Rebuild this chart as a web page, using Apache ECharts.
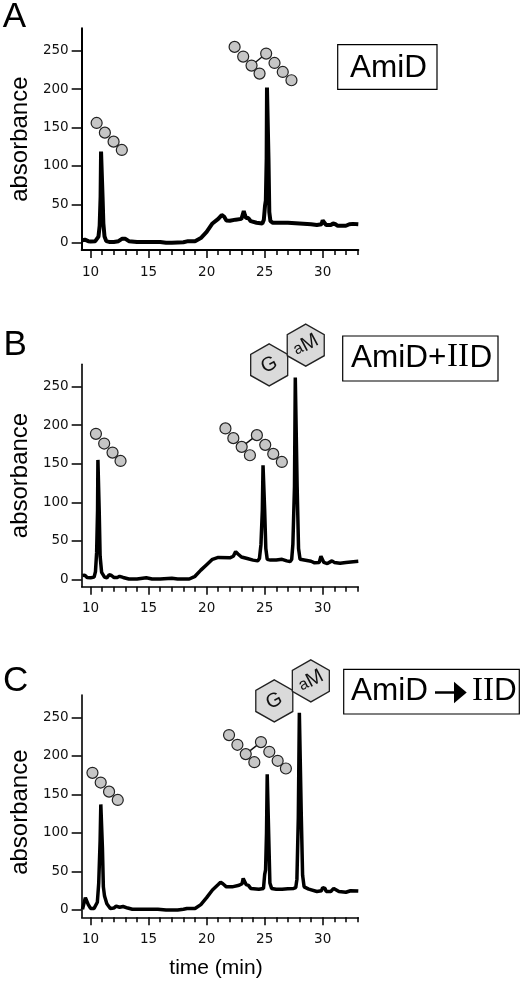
<!DOCTYPE html>
<html>
<head>
<meta charset="utf-8">
<style>
html, body { margin: 0; padding: 0; background: #fff; }
#chart-main { width: 523px; height: 982px; }
</style>
<script src="https://cdn.jsdelivr.net/npm/echarts@6/dist/echarts.min.js"></script>
</head>
<body>
<div id="chart-main"></div>
<script>
var xMajorTicks = [10, 15, 20, 25, 30];
var xMinorTicks = [11, 12, 13, 14, 16, 17, 18, 19, 21, 22, 23, 24, 26, 27, 28, 29, 31, 32, 33];
var yTicks = [0, 50, 100, 150, 200, 250];

// traces: [time, absorbance]
var traceA = [[9.3,3],[9.5,4],[9.8,2],[10,1.5],[10.4,2],[10.55,2],[10.68,8],[10.78,22],[10.86,60],[10.9,118.5],[10.99,118.5],[11.03,60],[11.1,25],[11.2,8],[11.35,2],[11.6,1],[12,1],[12.4,2],[12.7,5],[13,5],[13.3,2],[14,1],[15,1],[16,1],[16.5,0],[17,0],[18,0.5],[18.4,2],[19,2],[19.5,6],[20,14],[20.5,25],[21,31],[21.3,36],[21.5,34],[21.7,29],[22,28.5],[22.5,30],[23,31],[23.1,36],[23.2,41],[23.3,36],[23.4,32],[23.6,32],[23.8,28],[24.3,26],[24.8,25],[24.93,30],[25.03,48],[25.1,55],[25.17,110],[25.2,202],[25.29,202],[25.33,110],[25.4,40],[25.5,28],[25.7,26],[26,26],[27,26],[28,25],[29,24],[29.5,23],[29.9,24],[30,29],[30.1,28],[30.3,23],[30.7,23],[30.9,25],[31.1,24],[31.3,22],[32,22],[32.3,24],[32.6,24.5],[33.07,24]];
var traceB = [[9.3,5],[9.5,5.5],[9.7,2.5],[10,2],[10.3,3],[10.42,10],[10.52,35],[10.6,90],[10.63,155],[10.7,155],[10.74,90],[10.82,30],[10.95,9],[11.2,3],[11.4,2],[11.6,6],[11.8,5],[12,2.5],[12.3,2.5],[12.5,4],[12.8,2.5],[13.3,0.5],[14,0.5],[14.8,2],[15.3,0.5],[16,0.5],[17,1.5],[17.5,0.5],[18.5,0.5],[19,4],[19.5,12],[20,19],[20.5,26],[21,28.5],[22,28],[22.3,30],[22.5,36],[22.7,33],[23,29],[23.5,27],[24,25],[24.4,24],[24.55,27],[24.68,45],[24.8,90],[24.86,148],[24.94,148],[25,90],[25.1,40],[25.22,26],[25.5,25],[26,25],[26.5,26],[26.9,24],[27.2,23],[27.33,26],[27.43,45],[27.57,120],[27.64,262],[27.72,262],[27.8,120],[27.92,40],[28.05,26],[28.2,24],[29,23.5],[29.3,21.5],[29.7,22],[29.85,30],[30,30],[30.1,22],[30.4,20.5],[30.8,24],[31,22],[31.5,21],[32,22],[33.07,23.5]];
var traceC = [[9.3,1],[9.45,3],[9.55,16],[9.7,16],[9.8,7],[10,2],[10.3,2],[10.45,3],[10.58,10],[10.7,35],[10.82,90],[10.88,137],[10.96,137],[11.02,80],[11.1,30],[11.2,18],[11.4,8],[11.7,2],[12,2.5],[12.2,5],[12.5,3.5],[12.8,4.5],[13.2,2.5],[13.6,1],[14,1],[15,1],[15.8,1],[16.5,0],[17.5,0],[18,1],[18.3,2],[19,2],[19.5,7],[20,16],[20.5,26],[21,33],[21.2,36],[21.4,34],[21.7,30],[22.2,30],[22.8,32],[23.05,34],[23.15,41],[23.3,40],[23.4,33],[23.6,32],[23.8,28],[24.5,27],[24.9,28],[25,46],[25.08,52],[25.16,100],[25.22,176],[25.3,176],[25.36,90],[25.45,35],[25.6,28],[26,27],[26.5,27],[27,27.5],[27.5,28],[27.68,29],[27.78,40],[27.9,120],[27.99,256],[28.07,256],[28.16,120],[28.27,45],[28.4,30],[28.8,27],[29.5,24],[29.9,25],[30,29],[30.2,28],[30.3,24],[30.7,24],[30.95,28],[31.1,27],[31.4,24],[32,23],[32.4,25],[33.07,24.5]];

// glycan circles above the peaks, in chart units
var beadsA = [[10.52,155.8],[11.23,143.2],[11.98,131.5],[12.69,120.7],[22.41,254.8],[23.15,242.2],[23.87,230.5],[24.56,220.1],[25.13,246.1],[25.85,233.9],[26.56,222.2],[27.31,211.4]];
var beadsB = [[10.46,188.8],[11.17,176.2],[11.89,164.5],[12.58,153.6],[21.62,195.8],[22.30,183.2],[23.02,171.9],[23.73,161.0],[24.33,187.1],[25.05,174.5],[25.74,162.8],[26.48,152.3]];
var beadsC = [[10.16,178.0],[10.87,165.4],[11.59,153.6],[12.34,142.8],[21.93,227.0],[22.65,214.4],[23.37,202.3],[24.11,191.8],[24.68,217.9],[25.40,205.3],[26.12,193.6],[26.83,183.6]];
var linkA = [[23.87,230.5],[25.13,246.1]];
var linkB = [[23.02,171.9],[24.33,187.1]];
var linkC = [[23.37,202.3],[24.68,217.9]];

var hexB = [[25.39,278.2,'G'],[28.54,303.8,'aM']];
var hexC = [[25.83,271.3,'G'],[28.98,297.3,'aM']];

var panels = [
    {trace: traceA, beads: beadsA, link: linkA, hex: null, left: 81, right: 164.7, top: 28.3, bottom: 732, axisW: 2, traceW: 4, yPad: 0},
    {trace: traceB, beads: beadsB, link: linkB, hex: hexB, left: 80, right: 164.7, top: 364.3, bottom: 395.3, axisW: 1.6, traceW: 3.5, yPad: 0},
    {trace: traceC, beads: beadsC, link: linkC, hex: hexC, left: 80, right: 164.7, top: 695, bottom: 64.7, axisW: 1.6, traceW: 3.5, yPad: 12}
];

var SANS = '"Liberation Sans", Arial, sans-serif';
var SERIF = '"Liberation Serif", serif';
var TICKFONT = '"DejaVu Sans", Verdana, sans-serif';
var HEX_PATH = 'path://M0,-50 L43.3,-25 L43.3,25 L0,50 L-43.3,25 L-43.3,-25 Z';

var grids = [], xAxes = [], yAxes = [], series = [];

panels.forEach(function (p, i) {
    var lineStyle = {color: '#000', width: p.axisW};
    grids.push({left: p.left, right: p.right, top: p.top, bottom: p.bottom});

    xAxes.push({
        type: 'value', gridIndex: i, position: 'bottom', min: 9.23, max: 33.07,
        splitLine: {show: false},
        axisLine: {onZero: false, lineStyle: lineStyle},
        axisTick: {length: 8, lineStyle: {color: '#000', width: 1.5}, customValues: xMajorTicks},
        axisLabel: {color: '#111', fontFamily: TICKFONT, fontSize: 13.5, margin: 15, customValues: xMajorTicks},
        name: i == 2 ? 'time (min)' : '',
        nameLocation: 'middle', nameGap: 40,
        nameTextStyle: {color: '#000', fontFamily: SANS, fontSize: 21, padding: [0, 8, 0, 0]}
    });
    // second axis only for the short ticks
    xAxes.push({
        type: 'value', gridIndex: i, position: 'bottom', min: 9.23, max: 33.07,
        splitLine: {show: false},
        axisLine: {show: false, onZero: false},
        axisTick: {length: 5, lineStyle: {color: '#000', width: 1.5}, customValues: xMinorTicks},
        axisLabel: {show: false}
    });
    yAxes.push({
        type: 'value', gridIndex: i, min: -9.5, max: 279,
        splitLine: {show: false},
        axisLine: {onZero: false, lineStyle: lineStyle},
        axisTick: {length: 10, lineStyle: {color: '#000', width: 1.5}, customValues: yTicks},
        axisLabel: {color: '#111', fontFamily: TICKFONT, fontSize: 13.5, margin: 13, padding: [2, 0, 0, 0], customValues: yTicks},
        name: 'absorbance',
        nameLocation: 'middle', nameGap: 48,
        nameTextStyle: {color: '#000', fontFamily: SANS, fontSize: 24, padding: [0, p.yPad, 0, 0]}
    });

    series.push({
        type: 'line', xAxisIndex: i * 2, yAxisIndex: i, data: p.trace,
        symbol: 'none', smooth: false, clip: false, silent: true,
        lineStyle: {color: '#000', width: p.traceW, join: 'bevel', cap: 'butt'}
    });
    series.push({
        type: 'line', xAxisIndex: i * 2, yAxisIndex: i, data: p.link, z: 1,
        symbol: 'none', clip: false, silent: true,
        lineStyle: {color: '#111', width: 1.4}
    });
    series.push({
        type: 'scatter', xAxisIndex: i * 2, yAxisIndex: i, data: p.beads,
        symbolSize: 11, clip: false, silent: true,
        itemStyle: {color: '#c6c6c6', borderColor: '#222', borderWidth: 1.2, opacity: 1}
    });
    if (p.hex) {
        series.push({
            type: 'scatter', xAxisIndex: i * 2, yAxisIndex: i, data: p.hex,
            symbol: HEX_PATH, symbolSize: [37, 42], clip: false, silent: true,
            itemStyle: {color: '#dadada', borderColor: '#222', borderWidth: 1.4, opacity: 1},
            label: {
                show: true, position: 'inside', rotate: 28,
                formatter: function (o) { return o.data[2] == 'aM' ? '{s|a}{l|M}' : '{l|G}'; },
                rich: {
                    s: {color: '#111', fontFamily: SANS, fontSize: 16},
                    l: {color: '#111', fontFamily: SANS, fontSize: 20}
                }
            }
        });
    }
});

// base is the baseline of the letters
function txt(t, x, base, size, family) {
    return {type: 'text', x: x, y: base - size * 0.857, style: {text: t, fill: '#000', font: size + 'px ' + family}};
}
function box(x, y, w, h) {
    return {type: 'rect', shape: {x: x, y: y, width: w, height: h}, style: {fill: '#fff', stroke: '#000', lineWidth: 1.2}};
}

var graphics = [
    txt('A', 2.7, 30, 35, SANS),
    txt('B', 3.4, 358.3, 35, SANS),
    txt('C', 3, 694, 35, SANS),
    box(337.7, 44.7, 99.3, 44.6),
    txt('AmiD', 350, 79, 31.5, SANS),
    box(342.7, 336, 155.3, 45),
    txt('AmiD+', 351, 369.5, 31.5, SANS),
    txt('II', 447, 369.5, 33, SERIF),
    txt('D', 469.5, 369.5, 31.5, SANS),
    box(343.7, 669.3, 175.6, 44.7),
    txt('AmiD', 351, 702.7, 31.5, SANS),
    {type: 'line', shape: {x1: 435, y1: 692.5, x2: 456, y2: 692.5}, style: {stroke: '#000', lineWidth: 2.5}},
    {type: 'polygon', shape: {points: [[454, 681.7], [466.7, 692.5], [454, 703.3]]}, style: {fill: '#000'}},
    txt('II', 472, 702.7, 33, SERIF),
    txt('D', 494, 702.7, 31.5, SANS)
];

var option = {
    backgroundColor: '#fff',
    animation: false,
    grid: grids,
    xAxis: xAxes,
    yAxis: yAxes,
    series: series,
    graphic: graphics
};

var myChart = echarts.init(document.getElementById('chart-main'), null, {renderer: 'canvas'});
myChart.setOption(option);
</script>
</body>
</html>
